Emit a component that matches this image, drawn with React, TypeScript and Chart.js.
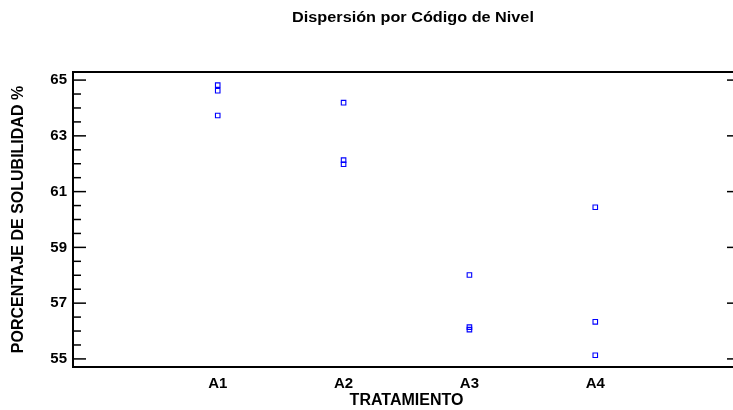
import { useEffect, useRef } from "react";
import { Chart, registerables } from "chart.js";

Chart.register(...registerables);

// Chart text
const chartTitle = "Dispersión por Código de Nivel";
const xAxisTitle = "TRATAMIENTO";
const yAxisTitle = "PORCENTAJE DE SOLUBILIDAD %";

// Treatment levels and the observed solubility (%) per level
const treatments = ["A1", "A2", "A3", "A4"];
const a1Values = [64.82, 64.62, 63.73];
const a2Values = [64.19, 62.13, 61.98];
const a3Values = [58.01, 56.14, 56.05];
const a4Values = [60.44, 56.33, 55.13];
const groupValues = [a1Values, a2Values, a3Values, a4Values];

// Axis ticks
const yLabelTicks = [55, 57, 59, 61, 63, 65];
const yMinorStep = 0.5;
const yMin = 54.71;
const yMax = 65.29;
const xMin = -0.15;
const xMax = 5.15;

const FONT = "'Liberation Sans', Arial, Helvetica, sans-serif";

const points = groupValues.flatMap((vals, i) =>
  vals.map((v) => ({ x: i + 1, y: v }))
);

const framePlugin = {
  id: "frame",
  afterDraw(chart: any) {
    const { ctx, chartArea: a, scales } = chart;
    const ys = scales.y;
    ctx.save();
    ctx.strokeStyle = "#000";

    // inward tick marks on the left and right axes
    ctx.lineWidth = 1.5;
    const kStart = Math.ceil(yMin / yMinorStep);
    const kEnd = Math.floor(yMax / yMinorStep);
    for (let k = kStart; k <= kEnd; k++) {
      const v = k * yMinorStep;
      const py = ys.getPixelForValue(v);
      const major = yLabelTicks.includes(v);
      ctx.beginPath();
      ctx.moveTo(a.left, py);
      ctx.lineTo(a.left + (major ? 13 : 8), py);
      ctx.stroke();
      if (major) {
        ctx.beginPath();
        ctx.moveTo(a.right, py);
        ctx.lineTo(a.right - 13, py);
        ctx.stroke();
      }
    }

    // plot frame
    ctx.lineWidth = 2;
    ctx.strokeRect(a.left, a.top, a.right - a.left, a.bottom - a.top);

    // chart title
    ctx.fillStyle = "#000";
    ctx.font = `bold 14px ${FONT}`;
    ctx.textAlign = "center";
    ctx.textBaseline = "alphabetic";
    ctx.translate(413, 22);
    ctx.scale(1.16, 1);
    ctx.fillText(chartTitle, 0, 0);
    ctx.restore();
  },
};

export default function App() {
  const canvasRef = useRef<HTMLCanvasElement | null>(null);

  useEffect(() => {
    const canvas = canvasRef.current;
    if (!canvas) return;
    const chart = new Chart(canvas, {
      type: "scatter",
      data: {
        datasets: [
          {
            data: points,
            pointStyle: "rect",
            pointRadius: 3.2,
            pointHoverRadius: 3.2,
            pointBorderWidth: 1.1,
            borderColor: "#0000ff",
            backgroundColor: "rgba(0,0,0,0)",
          },
        ],
      },
      options: {
        responsive: false,
        animation: false,
        events: [],
        layout: { padding: { top: 72, right: 5, left: 0, bottom: 0 } },
        plugins: {
          legend: { display: false },
          tooltip: { enabled: false },
          title: { display: false },
        },
        scales: {
          x: {
            type: "linear",
            min: xMin,
            max: xMax,
            grid: { display: false, drawTicks: false },
            border: { display: false },
            afterBuildTicks: (scale: any) => {
              scale.ticks = treatments.map((_, i) => ({ value: i + 1 }));
            },
            afterFit: (scale: any) => {
              scale.height = 43;
            },
            ticks: {
              padding: 8,
              color: "#000",
              font: { family: FONT, size: 15, weight: "bold" },
              maxRotation: 0,
              autoSkip: false,
              callback: (v: any) => treatments[Number(v) - 1] ?? "",
            },
            title: {
              display: true,
              text: xAxisTitle,
              color: "#000",
              font: { family: FONT, size: 16, weight: "bold" },
              padding: { top: 0, bottom: 0 },
            },
          },
          y: {
            type: "linear",
            min: yMin,
            max: yMax,
            grid: { display: false, drawTicks: false },
            border: { display: false },
            afterBuildTicks: (scale: any) => {
              scale.ticks = yLabelTicks.map((v) => ({ value: v }));
            },
            afterFit: (scale: any) => {
              scale.width = 73;
            },
            ticks: {
              padding: 6,
              color: "#000",
              font: { family: FONT, size: 15, weight: "bold" },
              autoSkip: false,
            },
            title: {
              display: true,
              text: yAxisTitle,
              color: "#000",
              font: { family: FONT, size: 16, weight: "bold" },
              padding: { top: 9, bottom: 0 },
            },
          },
        },
      },
      plugins: [framePlugin],
    });
    return () => chart.destroy();
  }, []);

  return (
    <div
      style={{
        position: "fixed",
        left: 0,
        top: 0,
        width: 733,
        height: 410,
        overflow: "hidden",
        background: "#fff",
      }}
    >
      <canvas ref={canvasRef} width={745} height={410} />
    </div>
  );
}
